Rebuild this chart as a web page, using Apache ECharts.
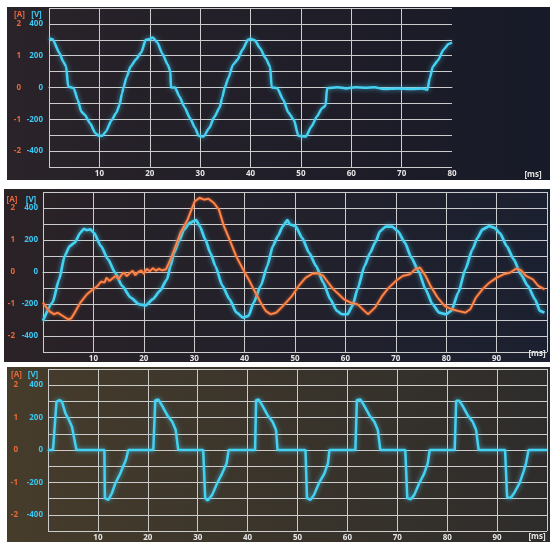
<!DOCTYPE html>
<html><head><meta charset="utf-8">
<script src="https://cdn.jsdelivr.net/npm/echarts@6/dist/echarts.min.js"></script>
<style>html,body{margin:0;padding:0;background:#fff}#c{width:550px;height:542px}</style>
</head><body><div id="c"></div><script>
// ---------- data ----------
const voltTickLabels = [400, 200, 0, -200, -400];
const ampTickLabels = [2, 1, 0, -1, -2];

// Panel 1: voltage [V] vs time [ms]
const p1Time = [0,0.7,2.1,2.8,3.4,3.8,4.5,4.9,5.7,6.4,7.1,8.2,9.2,9.9,10.6,11.3,12.4,13.4,14.0,14.5,14.8,15.4,16.2,17.3,18.3,19.2,19.9,20.6,21.5,22.5,23.6,24.1,24.2,25.0,25.9,26.9,28.0,29.0,29.7,30.7,31.8,32.8,33.9,34.4,34.9,35.6,36.5,37.4,38.4,39.5,40.0,40.9,41.9,43.0,43.9,44.2,45.3,46.5,47.5,48.6,49.5,51.0,52.1,53.2,54.2,54.9,55.2,57.3,59.0,60.8,62.9,64.6,66.4,69.2,72.0,74.1,75.1,75.6,76.2,77.2,78.3,79.3,80.0];
const p1Volt = [310,304,216,163,132,6,0,-4,-77,-151,-172,-228,-287,-304,-304,-276,-207,-157,-109,-36,0,65,132,178,220,300,304,314,283,212,142,100,0,0,-57,-124,-193,-255,-304,-308,-255,-186,-124,-61,0,59,142,174,237,300,306,295,247,184,132,0,-4,-77,-157,-203,-304,-308,-245,-182,-130,-115,-4,2,-6,2,-2,2,-10,-6,-10,-6,-15,59,132,170,237,274,283];

// Panel 2: voltage [V] and current [A] vs time [ms]
const p2VTime = [0,1.9,3.2,4.3,5.3,6.3,7.4,8.1,8.7,9.4,10.1,11.5,12.9,14.3,15.7,17.4,19.1,20.4,21.8,23.2,24.6,25.3,26.0,27.0,28.0,29.1,30.4,31.1,32.2,33.2,34.2,35.6,37.0,38.4,39.7,40.8,41.8,43.2,44.5,45.6,46.6,47.6,48.5,49.0,50.1,51.4,52.8,54.2,55.6,57.0,58.3,59.3,60.4,61.4,62.4,63.8,64.9,65.9,66.9,68.0,69.3,70.4,71.8,73.1,74.5,75.9,77.3,78.6,80.0,81.0,82.4,83.8,85.2,86.2,87.2,88.6,89.6,90.7,92.0,93.4,94.8,96.2,97.6,98.6,99.5];
const p2Volt = [-305,-191,-46,100,162,183,245,270,262,266,245,162,79,-4,-87,-160,-202,-208,-170,-118,-46,37,120,193,266,307,324,287,204,120,37,-87,-170,-254,-285,-274,-191,-87,37,162,224,287,324,297,287,214,120,37,-66,-170,-243,-264,-264,-212,-108,37,120,183,256,283,283,256,183,89,6,-108,-202,-254,-264,-243,-129,17,141,214,266,287,276,241,162,79,-15,-87,-170,-243,-254];
const p2ATime = [0,1.2,2.2,2.9,3.9,5.0,5.6,6.3,7.4,8.7,9.6,10.8,11.5,12.2,12.6,13.2,13.8,14.4,15.0,15.6,16.1,16.6,17.2,17.8,18.3,18.9,19.5,20.0,20.6,21.2,21.8,22.4,23.0,23.6,24.4,25.3,26.3,27.3,28.7,30.1,31.1,32.0,32.8,33.9,34.9,35.9,37.0,38.3,39.7,40.8,41.8,43.2,44.2,45.2,46.3,47.6,49.4,50.7,52.1,53.5,54.5,55.6,56.6,57.6,58.7,59.7,61.1,62.4,63.8,64.5,65.9,67.3,68.6,70.0,71.4,72.8,73.8,74.8,75.9,76.9,78.3,79.7,81.0,82.4,83.8,84.8,85.9,87.2,88.6,90.0,91.4,92.7,93.8,94.8,95.8,97.2,98.3,99.5];
const p2Amp = [-0.96,-1.22,-1.32,-1.27,-1.37,-1.48,-1.45,-1.27,-0.96,-0.70,-0.58,-0.44,-0.30,-0.33,-0.18,-0.28,-0.20,-0.12,-0.22,-0.08,-0.02,-0.13,-0.04,0.04,-0.10,0.0,0.05,-0.06,0.10,0.02,0.12,0.04,0.10,0.05,0.08,0.39,0.81,1.23,1.64,2.21,2.32,2.26,2.29,2.16,1.95,1.43,1.02,0.50,0.08,-0.23,-0.54,-0.96,-1.22,-1.32,-1.27,-1.06,-0.75,-0.44,-0.18,-0.05,-0.04,-0.12,-0.33,-0.54,-0.70,-0.85,-0.96,-1.01,-1.22,-1.32,-1.11,-0.75,-0.49,-0.28,-0.12,-0.07,0.08,0.14,-0.12,-0.44,-0.80,-1.06,-1.16,-1.22,-1.27,-1.16,-0.80,-0.54,-0.33,-0.18,-0.07,-0.02,0.10,0.06,-0.12,-0.23,-0.44,-0.54];

// Panel 3: voltage [V] vs time [ms]
const p3Time = [0,1.0,1.7,2.3,2.8,3.5,4.2,4.8,5.7,10.7,11.3,11.4,12.1,12.8,13.5,14.5,15.6,16.1,21.1,21.5,22.1,22.8,23.9,24.9,25.6,26.1,31.1,31.5,32.0,32.9,33.9,34.9,35.8,36.2,41.5,41.7,42.2,42.9,44.0,45.0,45.7,46.0,51.6,51.9,52.6,53.3,54.3,55.4,56.1,56.4,61.6,61.9,62.6,63.3,64.4,65.4,66.1,66.6,71.6,72.0,72.7,73.4,74.4,75.4,76.1,76.5,81.5,81.8,82.4,83.0,84.1,85.1,85.8,86.3,91.6,92.0,92.7,93.4,94.5,95.3,95.8,96.3,100];
const p3Volt = [0,0,297,308,297,226,185,144,0,0,0,-297,-308,-267,-205,-144,-62,0,0,308,312,277,215,174,123,0,0,-297,-312,-277,-205,-144,-82,0,0,308,312,277,215,174,123,0,0,-297,-308,-277,-205,-144,-82,0,0,308,312,277,215,174,123,0,0,-297,-304,-277,-205,-144,-82,0,0,304,304,277,215,174,123,0,0,-291,-297,-267,-205,-133,-82,0,0];

// ---------- chart ----------
const zip = (a, b) => a.map((t, i) => [t, b[i]]);
const CYAN = '#45d2f2', ORANGE = '#ee6a30', ORANGE_LIGHT = '#ffa36a';
const LBL_CYAN = '#3cc6f0', LBL_ORANGE = '#e8683a';
const GRIDC = '#cccccc';
const FONT = 'Open Sans';

const layout = [
  {left: 49, top: 8, width: 403, height: 159, xmax: 80, vMargin: 6, aOffset: 22, maxLine: false},
  {left: 43, top: 192, width: 510, height: 160, xmax: 100, vMargin: 5, aOffset: 23, maxLine: true},
  {left: 48, top: 369, width: 507, height: 162, xmax: 100, vMargin: 5, aOffset: 25, maxLine: true}
];

const grid = [], xAxis = [], yAxis = [];
layout.forEach((L, i) => {
  grid.push({left: L.left, top: L.top, width: L.width, height: L.height, containLabel: false});
  xAxis.push({
    gridIndex: i, type: 'value', min: 0, max: L.xmax, interval: 10,
    axisLine: {show: true, lineStyle: {color: GRIDC, width: 1}},
    axisTick: {show: false},
    splitLine: {show: true, showMaxLine: L.maxLine, lineStyle: {color: GRIDC, width: 1}},
    axisLabel: {color: '#e6e6e6', fontSize: 8, fontWeight: 'bold', fontFamily: FONT, margin: 3,
      formatter: v => (v > 0 && v < 100) ? String(v) : ''}
  });
  yAxis.push({
    gridIndex: i, type: 'value', min: -500, max: 500, interval: 100, position: 'left',
    axisLine: {show: false}, axisTick: {show: false},
    splitLine: {show: true, lineStyle: {color: GRIDC, width: 1}},
    axisLabel: {color: LBL_CYAN, fontSize: 8, fontWeight: 'bold', fontFamily: FONT, margin: L.vMargin,
      formatter: v => voltTickLabels.includes(v) ? String(v) : ''}
  });
  yAxis.push({
    gridIndex: i, type: 'value', min: -2.5, max: 2.5, interval: 0.5, position: 'left', offset: L.aOffset,
    axisLine: {show: false}, axisTick: {show: false}, splitLine: {show: false},
    axisLabel: {color: LBL_ORANGE, fontSize: 8, fontWeight: 'bold', fontFamily: FONT, margin: L.vMargin,
      formatter: v => ampTickLabels.some(a => Math.abs(a - v) < 1e-9) ? String(Math.round(v)) : ''}
  });
});

const glow = {shadowBlur: 5, shadowColor: 'rgba(70,210,250,0.7)'};
const series = [
  {type: 'line', xAxisIndex: 0, yAxisIndex: 0, data: zip(p1Time, p1Volt), showSymbol: false,
   smooth: 0.2, smoothMonotone: 'x', lineStyle: Object.assign({color: CYAN, width: 2.5}, glow), z: 5},
  {type: 'line', xAxisIndex: 1, yAxisIndex: 2, data: zip(p2VTime, p2Volt), showSymbol: false,
   smooth: 0.2, smoothMonotone: 'x', lineStyle: Object.assign({color: CYAN, width: 2.7}, glow), z: 5},
  {type: 'line', xAxisIndex: 1, yAxisIndex: 3, data: zip(p2ATime, p2Amp), showSymbol: false,
   lineStyle: {color: ORANGE, width: 2.2, shadowBlur: 3, shadowColor: 'rgba(255,120,60,0.6)'}, z: 6},
  {type: 'line', xAxisIndex: 1, yAxisIndex: 3, data: zip(p2ATime, p2Amp), showSymbol: false,
   lineStyle: {color: ORANGE_LIGHT, width: 0.8}, z: 7},
  {type: 'line', xAxisIndex: 2, yAxisIndex: 4, data: zip(p3Time, p3Volt), showSymbol: false,
   lineStyle: Object.assign({color: CYAN, width: 2.5}, glow), z: 5}
];

const grad = (c1, c2) => new echarts.graphic.LinearGradient(0, 0, 1, 0, [{offset: 0, color: c1}, {offset: 1, color: c2}]);
const txt = (x, y, s, color) => ({type: 'text', x: x, y: y, z: 10,
  style: {text: s, fill: color, font: 'bold 8px "' + FONT + '"', align: 'center', verticalAlign: 'middle',
          textAlign: 'center', textVerticalAlign: 'middle'}});

const graphic = [
  {type: 'rect', shape: {x: 7, y: 7, width: 543, height: 173}, style: {fill: grad('#2a2329', '#171a28')}, z: -10},
  {type: 'rect', shape: {x: 4, y: 189, width: 546, height: 173}, style: {fill: grad('#2a2226', '#1b2030')}, z: -10},
  {type: 'rect', shape: {x: 7, y: 367, width: 543, height: 175}, style: {fill: grad('#463c2b', '#2e2c2b')}, z: -10},
  txt(19.5, 15, '[A]', LBL_ORANGE), txt(36.5, 15, '[V]', LBL_CYAN), txt(533, 175, '[ms]', '#e6e6e6'),
  txt(12, 200, '[A]', LBL_ORANGE), txt(31, 200, '[V]', LBL_CYAN), txt(537, 354, '[ms]', '#e6e6e6'),
  txt(16.5, 375, '[A]', LBL_ORANGE), txt(33, 375, '[V]', LBL_CYAN), txt(537, 537, '[ms]', '#e6e6e6')
];

const chart = echarts.init(document.getElementById('c'), null, {renderer: 'canvas'});
chart.setOption({animation: false, backgroundColor: '#ffffff', grid, xAxis, yAxis, series, graphic});
</script></body></html>
